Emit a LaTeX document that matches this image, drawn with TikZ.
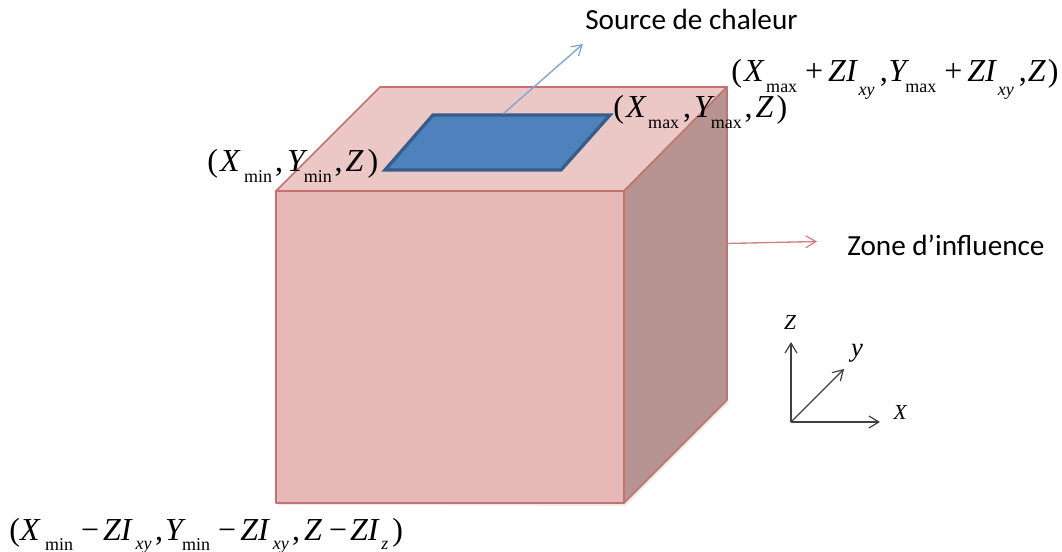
\documentclass[tikz,border=0pt]{standalone}
\usepackage{fontspec}
\setmainfont{Liberation Serif}
\newfontfamily\calib{Carlito}
\usetikzlibrary{arrows.meta}
\definecolor{frontc}{HTML}{E6B8B7}
\definecolor{topc}{HTML}{EBC7C5}
\definecolor{sidec}{HTML}{B79491}
\definecolor{edgec}{HTML}{C4716F}
\definecolor{bluef}{HTML}{4F81BD}
\definecolor{blued}{HTML}{385D8A}
\definecolor{bluea}{HTML}{7EA3CE}
\definecolor{reda}{HTML}{CF7F7D}
\definecolor{axisc}{HTML}{404040}
\definecolor{shadowc}{HTML}{EBEBEB}
\newcommand{\sbs}[1]{\raisebox{-0.34em}{\fontsize{13.5}{14}\selectfont #1}}
\newcommand{\sbi}[2][0.42]{\raisebox{-#1em}{\fontsize{13.5}{14}\selectfont\itshape #2}}
\newcommand{\V}[1]{\textit{#1}}
\newcommand{\Kk}[1]{\kern#1pt\relax}
\tikzset{
  x=0.75pt,y=-0.75pt,
  face/.style={draw=edgec,line width=1.2pt,line join=round},
  formula/.style={inner sep=0pt,anchor=base west,font=\fontsize{24}{26}\selectfont},
  caption/.style={inner sep=0pt,anchor=base west,font=\calib\fontsize{21.9}{25}\selectfont},
  axislabel/.style={inner sep=0pt,font=\fontsize{16}{18}\selectfont\itshape},
  thinarrow/.style={-{Straight Barb[length=7.5pt,width=9pt,line width=0.9pt]},line width=1pt},
}
\begin{document}
\begin{tikzpicture}
\useasboundingbox (0,0) rectangle (1062,552);
% shadow
\fill[shadowc] (278,505) -- (625,506) -- (729,402) -- (727,398) -- (624,500) -- (278,500) -- cycle;
% cube
\coordinate (fnw) at (276,191);
\coordinate (fne) at (624,191);
\coordinate (fse) at (624,503);
\coordinate (fsw) at (276,503);
\coordinate (bnw) at (380,87);
\coordinate (bne) at (727,87);
\coordinate (bse) at (727,400);
\filldraw[face,fill=frontc] (fnw) -- (fne) -- (fse) -- (fsw) -- cycle;
\filldraw[face,fill=topc] (fnw) -- (bnw) -- (bne) -- (fne) -- cycle;
\filldraw[face,fill=sidec] (fne) -- (bne) -- (bse) -- (fse) -- cycle;
% heat source
\coordinate (sa) at (385,170);
\coordinate (sb) at (433,115);
\coordinate (sc) at (610,115);
\coordinate (sd) at (561,170);
\filldraw[fill=bluef,draw=blued,line width=2.5pt,line join=miter] (sa) -- (sb) -- (sc) -- (sd) -- cycle;
% leaders
\coordinate (srcfoot) at (503,114);
\coordinate (srchead) at (583,44);
\draw[thinarrow,draw=bluea] (srcfoot) -- (srchead);
\coordinate (zonefoot) at (727,243.5);
\coordinate (zonehead) at (817,241.5);
\draw[thinarrow,draw=reda] (zonefoot) -- (zonehead);
% captions
\node[caption] (source) at (585,30) {Source de chaleur};
\node[caption] (zone) at (847,255) {Zone d’influence};
% formulas
\node[formula] (f1) at (731,82) {(\Kk{1.7}\V{X}\Kk{1.1}\sbs{max}\Kk{6}+\Kk{3.7}\V{ZI}\Kk{0.6}\sbi{xy}\Kk{3.8},\Kk{0.7}\V{Y}\Kk{-3}\sbs{max}\Kk{6}+\Kk{3.7}\V{ZI}\Kk{0.6}\sbi{xy}\Kk{3.8},\Kk{0.7}\V{Z}\Kk{1.5})};
\node[formula] (f2) at (613,118) {(\Kk{1.7}\V{X}\Kk{1.1}\sbs{max}\Kk{3},\Kk{2.2}\V{Y}\Kk{-3}\sbs{max}\Kk{2.2},\Kk{2.2}\V{Z}\Kk{2.2})};
\node[formula] (f3) at (207,172) {(\Kk{1.7}\V{X}\Kk{2.6}\sbs{min}\Kk{2.2},\Kk{3}\V{Y}\Kk{-3}\sbs{min}\Kk{2.2},\Kk{2.2}\V{Z}\Kk{3})};
\node[formula] (f4) at (9,540) {(\Kk{0.2}\V{X}\Kk{3.2}\sbs{min}\Kk{6}−\Kk{3}\V{ZI}\Kk{2.2}\sbi[0.3]{xy}\Kk{2.5},\Kk{1.5}\V{Y}\Kk{-2.6}\sbs{min}\Kk{6}−\Kk{3}\V{ZI}\Kk{2.2}\sbi[0.3]{xy}\Kk{2.5},\Kk{3}\V{Z}\Kk{5.2}−\Kk{2.2}\V{ZI}\Kk{1.1}\sbi[0.3]{z}\Kk{3})};
% axes
\coordinate (o) at (791,422);
\coordinate (zt) at (791,342);
\coordinate (xt) at (880,422);
\coordinate (yt) at (844,369);
\draw[thinarrow,draw=axisc] (o) -- (zt);
\draw[thinarrow,draw=axisc] (o) -- (xt);
\draw[thinarrow,draw=axisc] (o) -- (yt);
\node[axislabel] (zl) at (790,323) {Z};
\node[axislabel,font=\fontsize{20}{23}\selectfont\itshape] (yl) at (857,353) {y};
\node[axislabel] (xl) at (900,413) {X};
\end{tikzpicture}
\end{document}
